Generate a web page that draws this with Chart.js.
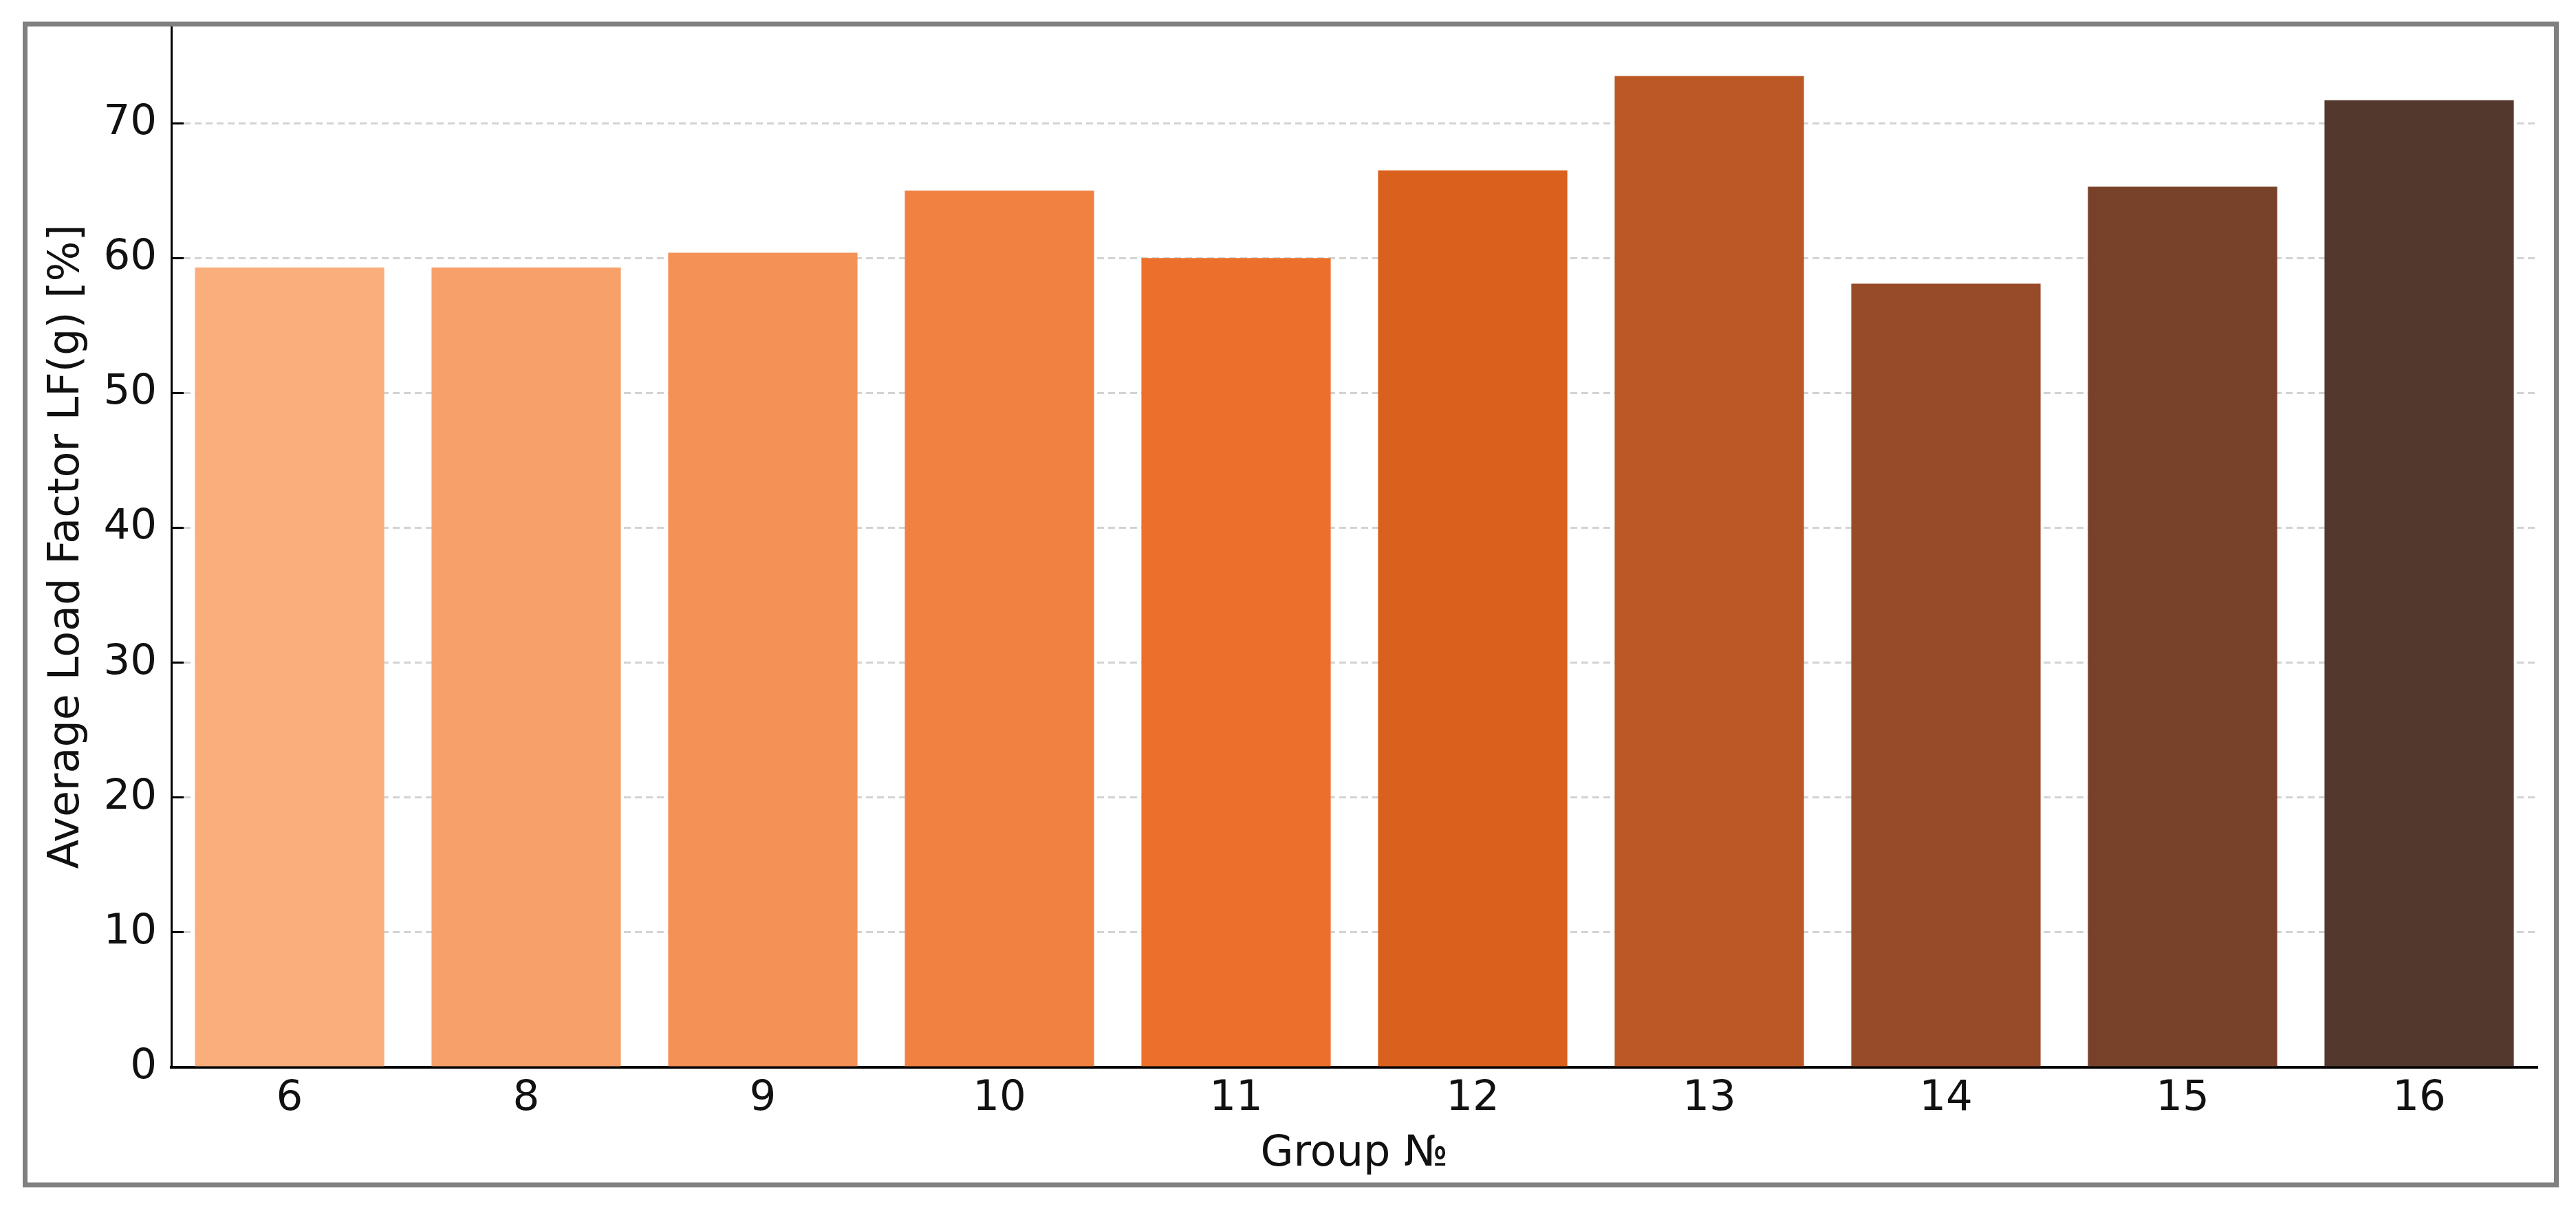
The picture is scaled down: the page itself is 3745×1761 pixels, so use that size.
<!DOCTYPE html>
<html>
<head>
<meta charset="utf-8">
<script src="https://cdn.jsdelivr.net/npm/chart.js@4.4.1/dist/chart.umd.min.js"></script>
<style>
  html, body { margin: 0; padding: 0; background: #ffffff; }
  #c { display: block; }
</style>
</head>
<body>
<canvas id="c" width="3745" height="1761"></canvas>
<script>
// ---- data ----
const groups = ['6', '8', '9', '10', '11', '12', '13', '14', '15', '16'];
const loadFactor = [59.3, 59.3, 60.4, 65.0, 60.0, 66.5, 73.5, 58.1, 65.3, 71.7];
const barColors = ['#FAAE7B', '#F7A069', '#F49156', '#F18141', '#EC702C',
                   '#DA601E', '#BC5826', '#984B28', '#78422A', '#53382D'];
const xTitle = 'Group №';
const yTitle = 'Average Load Factor LF(g) [%]';

const FONT = 'DejaVu Sans';

const framePlugin = {
  id: 'frame',
  beforeDraw(chart) {
    const ctx = chart.ctx;
    ctx.save();
    ctx.fillStyle = '#ffffff';
    ctx.fillRect(0, 0, chart.width, chart.height);
    ctx.restore();
  },
  afterDraw(chart) {
    const ctx = chart.ctx;
    ctx.save();
    ctx.strokeStyle = '#808080';
    ctx.lineWidth = 7;
    ctx.strokeRect(36.5, 35, 3680, 1688);
    ctx.restore();
  }
};

new Chart(document.getElementById('c'), {
  type: 'bar',
  data: {
    labels: groups,
    datasets: [{
      data: loadFactor,
      backgroundColor: barColors,
      borderWidth: 0,
      barPercentage: 0.8,
      categoryPercentage: 1.0
    }]
  },
  options: {
    responsive: false,
    animation: false,
    devicePixelRatio: 1,
    layout: { padding: { left: 0, right: 56, top: 38, bottom: 0 } },
    plugins: { legend: { display: false }, tooltip: { enabled: false } },
    scales: {
      x: {
        type: 'category',
        offset: true,
        z: 1,
        grid: {
          offset: false,
          drawOnChartArea: false,
          drawTicks: true,
          tickLength: -18,
          tickWidth: 3,
          tickColor: '#000000'
        },
        border: { display: true, color: '#000000', width: 4 },
        ticks: {
          color: '#111111',
          font: { family: FONT, size: 61 },
          padding: 28,
          maxRotation: 0,
          autoSkip: false
        },
        title: {
          display: true,
          text: xTitle,
          color: '#111111',
          font: { family: FONT, size: 62 },
          padding: { top: 0, bottom: 45 }
        },
        afterFit(scale) {
          scale.height = 209;
          scale.paddingLeft = 0;
          scale.paddingRight = 0;
        }
      },
      y: {
        min: 0,
        max: 77.2,
        z: 1,
        ticks: {
          stepSize: 10,
          includeBounds: false,
          color: '#111111',
          font: { family: FONT, size: 61 },
          padding: 39
        },
        grid: {
          color: 'rgba(200,200,200,0.8)',
          lineWidth: 3,
          drawTicks: true,
          tickLength: -18,
          tickWidth: 3,
          tickColor: '#000000'
        },
        border: { display: true, color: '#000000', width: 3, dash: [10, 6] },
        title: {
          display: true,
          text: yTitle,
          color: '#111111',
          font: { family: FONT, size: 62 },
          padding: { top: 61, bottom: 0 }
        },
        afterFit(scale) {
          scale.width = 249;
          scale.paddingTop = 0;
          scale.paddingBottom = 0;
        }
      }
    }
  },
  plugins: [framePlugin]
});
</script>
</body>
</html>
